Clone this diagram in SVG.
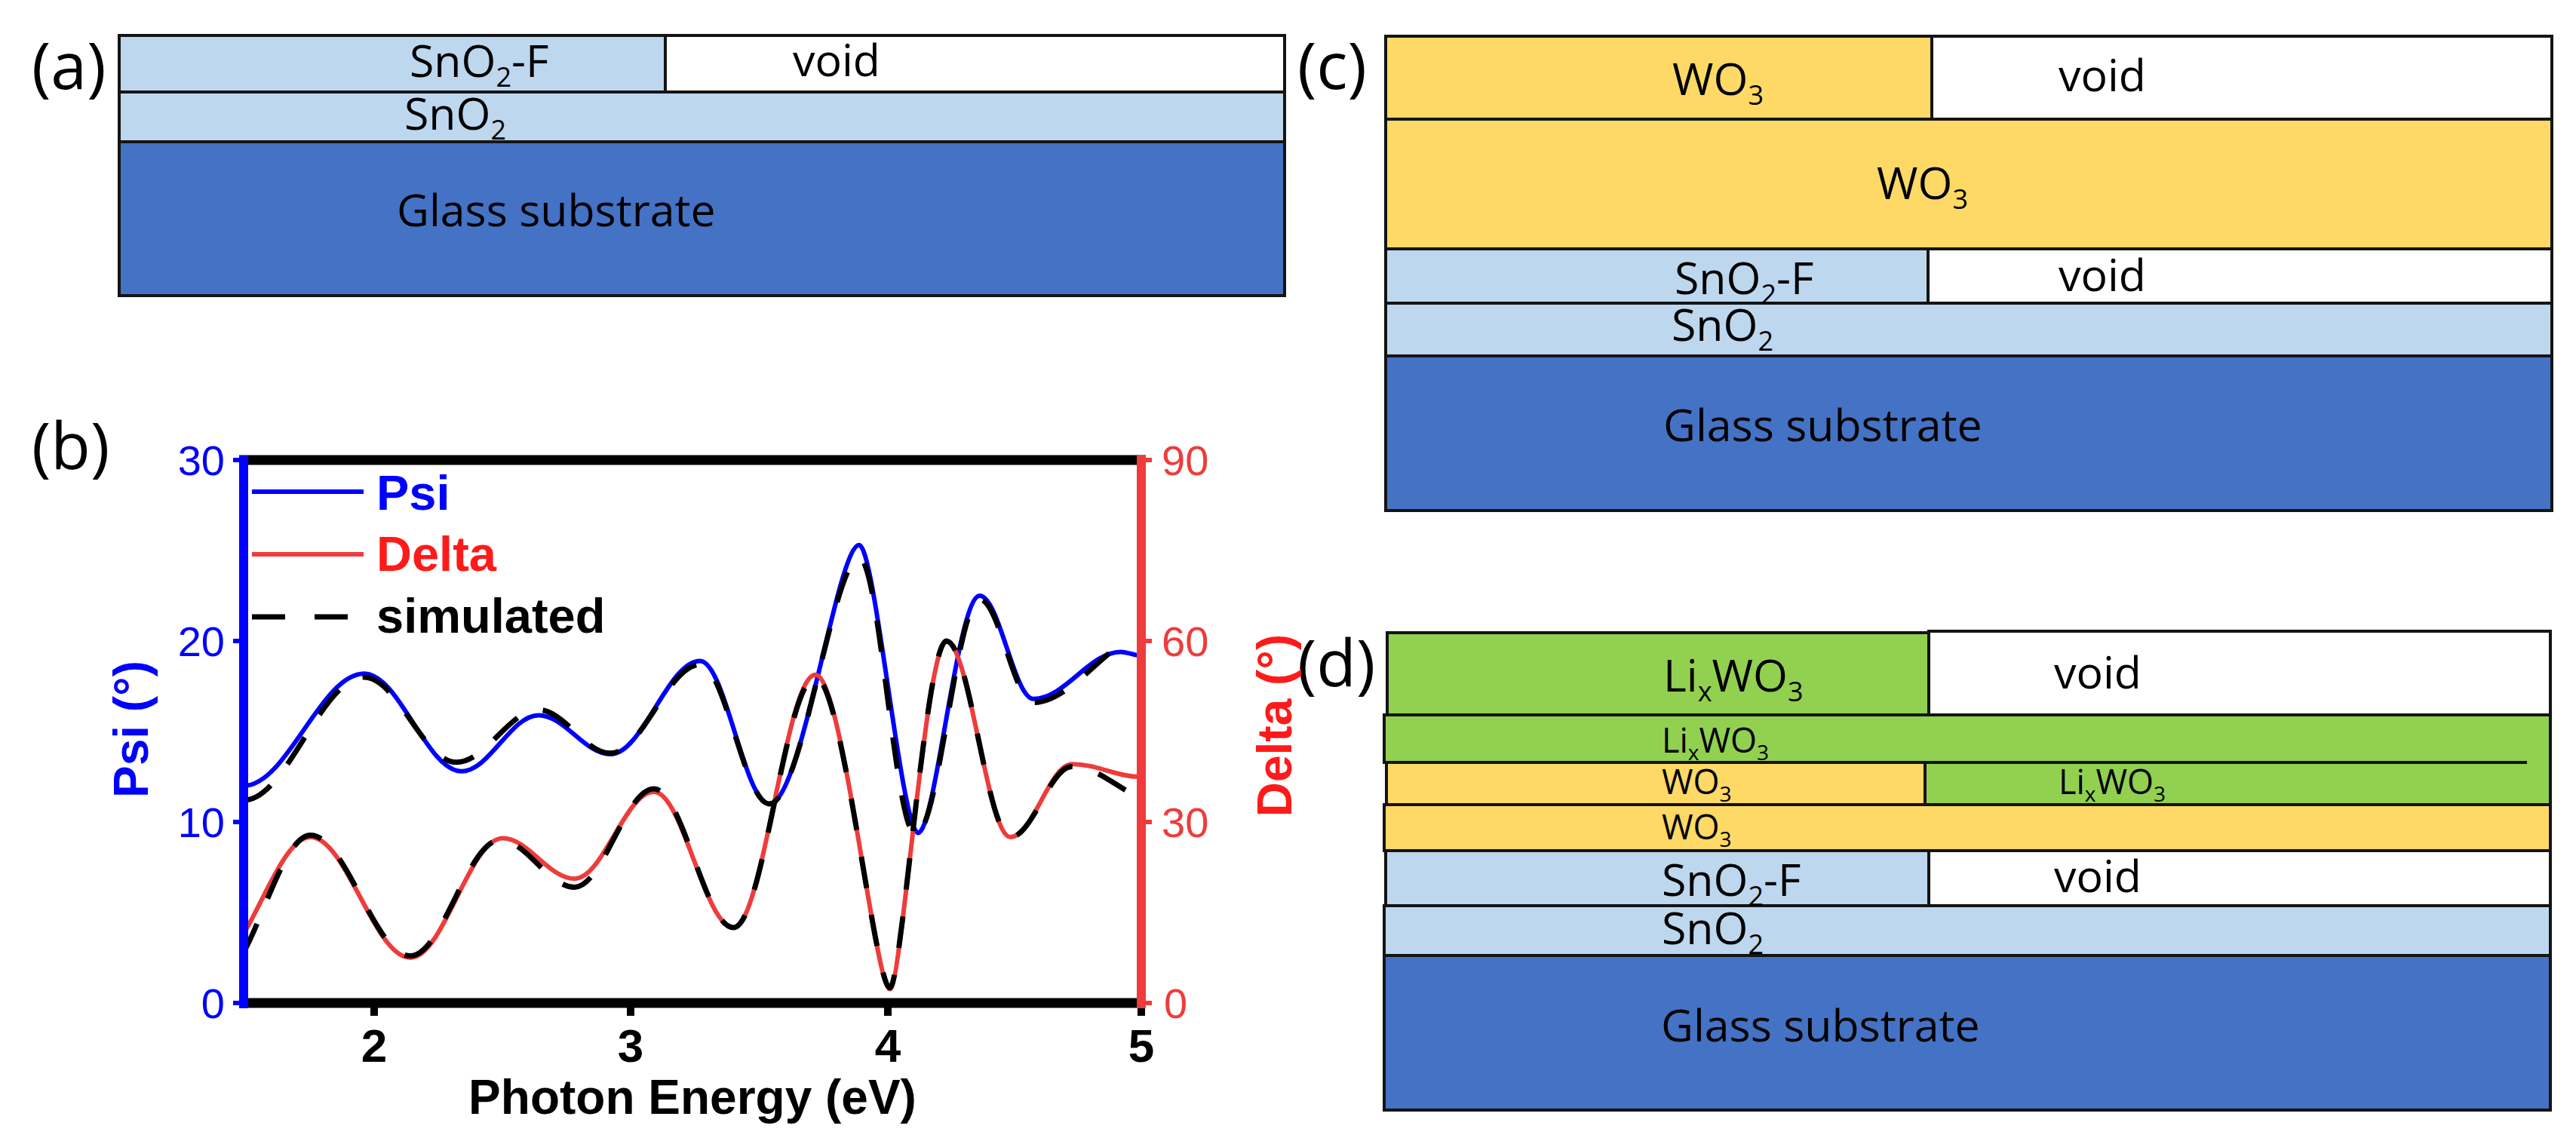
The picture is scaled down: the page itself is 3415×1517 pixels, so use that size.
<svg xmlns="http://www.w3.org/2000/svg" width="3415" height="1517" viewBox="0 0 3415 1517">
<style>
.bg{fill:#ffffff}
.ly{stroke:#141414;stroke-width:4}
.lb{fill:#BDD7EE}
.gl{fill:#4472C4}
.wo{fill:#FFD966}
.li{fill:#92D050}
.vd{fill:#ffffff}
.t{font-family:"Open Sans","Noto Sans",sans-serif;font-size:59px;fill:#000}
.ts{font-family:"Open Sans","Noto Sans",sans-serif;font-size:45px;fill:#000}
.pl{font-family:"Open Sans","Noto Sans",sans-serif;font-size:86px;fill:#000}
.tk{font-family:"Liberation Sans",Arial,sans-serif;font-size:56px}
.xt{font-family:"Liberation Sans",Arial,sans-serif;font-size:62px;font-weight:bold;fill:#000}
.ax{font-family:"Liberation Sans",Arial,sans-serif;font-size:64px;font-weight:bold}
.lg{font-family:"Liberation Sans",Arial,sans-serif;font-size:65px;font-weight:bold}
.blue{fill:#0000ff}
.red{fill:#ff1a1a}
.redl{fill:#ee3c3c}
.cv{fill:none;stroke-width:6;stroke-linejoin:round;stroke-linecap:round}
.dash{fill:none;stroke:#000;stroke-width:7;stroke-dasharray:42 36}
</style>
<rect class="bg" x="0" y="0" width="3415" height="1517"/>

<g id="panel-a">
<text class="pl" x="42" y="118">(a)</text>
<rect class="ly lb" x="158" y="47" width="724" height="75"/>
<rect class="ly vd" x="882" y="47" width="821" height="75"/>
<rect class="ly lb" x="158" y="122" width="1545" height="66"/>
<rect class="ly gl" x="158" y="188" width="1545" height="204"/>
<text class="t" x="543" y="102">SnO<tspan font-size="36" dy="13">2</tspan><tspan dy="-13">-F</tspan></text>
<text class="t" x="1051" y="101">void</text>
<text class="t" x="536" y="172">SnO<tspan font-size="36" dy="13">2</tspan></text>
<text class="t" x="526" y="300">Glass substrate</text>
</g>

<g id="panel-c">
<text class="pl" x="1720" y="118">(c)</text>
<rect class="ly wo" x="1837" y="48" width="724" height="110"/>
<rect class="ly vd" x="2561" y="48" width="822" height="110"/>
<rect class="ly wo" x="1837" y="158" width="1546" height="172"/>
<rect class="ly lb" x="1837" y="330" width="719" height="72"/>
<rect class="ly vd" x="2556" y="330" width="827" height="72"/>
<rect class="ly lb" x="1837" y="402" width="1546" height="70"/>
<rect class="ly gl" x="1837" y="472" width="1546" height="205"/>
<text class="t" x="2217" y="126">WO<tspan font-size="36" dy="13">3</tspan></text>
<text class="t" x="2729" y="121">void</text>
<text class="t" x="2488" y="264">WO<tspan font-size="36" dy="13">3</tspan></text>
<text class="t" x="2220" y="390">SnO<tspan font-size="36" dy="13">2</tspan><tspan dy="-13">-F</tspan></text>
<text class="t" x="2729" y="386">void</text>
<text class="t" x="2216" y="452">SnO<tspan font-size="36" dy="13">2</tspan></text>
<text class="t" x="2205" y="585">Glass substrate</text>
</g>

<g id="panel-d">
<text class="pl" x="1720" y="910">(d)</text>
<rect class="ly li" x="1839" y="839" width="718" height="109"/>
<rect class="ly vd" x="2557" y="837" width="824" height="111"/>
<rect class="ly li" x="1835" y="948" width="1546" height="63"/>
<rect class="ly wo" x="1838" y="1011" width="714" height="56"/>
<rect class="ly li" x="2552" y="1011" width="829" height="56"/>
<rect class="li" x="3350" y="1008" width="29" height="6"/>
<rect class="ly wo" x="1835" y="1067" width="1546" height="61"/>
<rect class="ly lb" x="1837" y="1128" width="720" height="73"/>
<rect class="ly vd" x="2557" y="1128" width="824" height="73"/>
<rect class="ly lb" x="1835" y="1201" width="1546" height="66"/>
<rect class="ly gl" x="1835" y="1267" width="1546" height="205"/>
<text class="t" x="2205" y="917">Li<tspan font-size="36" dy="13">x</tspan><tspan dy="-13">WO</tspan><tspan font-size="36" dy="13">3</tspan></text>
<text class="t" x="2723" y="913">void</text>
<text class="ts" x="2203" y="998">Li<tspan font-size="28" dy="10">x</tspan><tspan dy="-10">WO</tspan><tspan font-size="28" dy="10">3</tspan></text>
<text class="ts" x="2203" y="1053">WO<tspan font-size="28" dy="10">3</tspan></text>
<text class="ts" x="2729" y="1053">Li<tspan font-size="28" dy="10">x</tspan><tspan dy="-10">WO</tspan><tspan font-size="28" dy="10">3</tspan></text>
<text class="ts" x="2203" y="1113">WO<tspan font-size="28" dy="10">3</tspan></text>
<text class="t" x="2203" y="1188">SnO<tspan font-size="36" dy="13">2</tspan><tspan dy="-13">-F</tspan></text>
<text class="t" x="2723" y="1183">void</text>
<text class="t" x="2203" y="1252">SnO<tspan font-size="36" dy="13">2</tspan></text>
<text class="t" x="2202" y="1381">Glass substrate</text>
</g>

<g id="panel-b">
<text class="pl" x="42" y="622">(b)</text>
<g id="curves">
<path class="cv" stroke="#0000ff" d="M323,1042 C380.5,1042 425.3,893.2 482.8,893.2 C529.3,893.2 565.5,1022.8 612,1022.8 C648.7,1022.8 677.3,948.4 714,948.4 C748.3,948.4 774.9,1000 809.2,1000 C852,1000 885.4,876.4 928.2,876.4 C961.2,876.4 987,1066 1020,1066 C1062.8,1066 1110,722.8 1139,722.8 C1160,722.8 1195,1104.4 1217.2,1104.4 C1240,1104.4 1269.4,790 1298.8,790 C1324.5,790 1344.5,926.8 1370.2,926.8 C1411.8,926.8 1444.2,864.4 1485.8,864.4 C1495,864.4 1504,869.2 1510,869.2"/>
<path class="cv" stroke="#ee3c3c" d="M323,1238 C349.5,1195 379.6,1110 411.4,1110 C459.1,1110 496.3,1270 544,1270 C588.1,1270 622.3,1111.6 666.4,1111.6 C700.7,1111.6 727.3,1165.2 761.6,1165.2 C799.5,1165.2 829.1,1050 867,1050 C904.9,1050 934.5,1230 972.4,1230 C1011.6,1230 1042,894.8 1081.2,894.8 C1116.7,894.8 1160,1311.6 1179.8,1311.6 C1195,1311.6 1227.7,850.8 1254.6,850.8 C1285.2,850.8 1309,1110 1339.6,1110 C1369,1110 1391.8,1013.2 1421.2,1013.2 C1454.2,1013.2 1480,1030 1510,1030"/>
<path class="dash" d="M323,1061.2 C380.5,1061.2 425.3,898 482.8,898 C526.9,898 561.1,1010.8 605.2,1010.8 C644.4,1010.8 674.8,941.2 714,941.2 C748.3,941.2 774.9,998.8 809.2,998.8 C852,998.8 885.4,881.2 928.2,881.2 C961.2,881.2 987,1066 1020,1066 C1062.8,1066 1105,739.6 1139,739.6 C1165.9,739.6 1186.9,1106.8 1213.8,1106.8 C1244.4,1106.8 1268.2,794.8 1298.8,794.8 C1324.5,794.8 1344.5,931.6 1370.2,931.6 C1415.5,931.6 1465,860 1496,850"/>
<path class="dash" d="M323,1262.8 C349.5,1215 379.6,1107.6 411.4,1107.6 C459.1,1107.6 496.3,1267.6 544,1267.6 C586.8,1267.6 620.2,1114 663,1114 C698.5,1114 726.1,1176.4 761.6,1176.4 C799.5,1176.4 829.1,1046 867,1046 C904.9,1046 934.5,1230 972.4,1230 C1011.6,1230 1042,898 1081.2,898 C1116.7,898 1160,1310 1179.8,1310 C1195,1310 1227.7,850 1254.6,850 C1285.2,850 1309,1110 1339.6,1110 C1369,1110 1391.8,1016.4 1421.2,1016.4 C1448,1016.4 1470,1035 1496,1050"/>
</g>
<g id="axes">
<line x1="317" y1="610" x2="1519" y2="610" stroke="#000" stroke-width="13"/>
<line x1="317" y1="1330" x2="1519" y2="1330" stroke="#000" stroke-width="13"/>
<g stroke="#000" stroke-width="10">
<line x1="496" y1="1330" x2="496" y2="1347"/>
<line x1="836" y1="1330" x2="836" y2="1347"/>
<line x1="1177" y1="1330" x2="1177" y2="1347"/>
<line x1="1513" y1="1330" x2="1513" y2="1347"/>
</g>
<line x1="323" y1="604" x2="323" y2="1337" stroke="#0000ff" stroke-width="12"/>
<g stroke="#0000ff" stroke-width="6">
<line x1="309" y1="610" x2="323" y2="610"/>
<line x1="309" y1="850" x2="323" y2="850"/>
<line x1="309" y1="1090" x2="323" y2="1090"/>
<line x1="309" y1="1330" x2="323" y2="1330"/>
</g>
<line x1="1513" y1="604" x2="1513" y2="1337" stroke="#ee3c3c" stroke-width="12"/>
<g stroke="#ee3c3c" stroke-width="6">
<line x1="1513" y1="610" x2="1527" y2="610"/>
<line x1="1513" y1="850" x2="1527" y2="850"/>
<line x1="1513" y1="1090" x2="1527" y2="1090"/>
<line x1="1513" y1="1330" x2="1527" y2="1330"/>
</g>
</g>
<g id="tick-labels">
<text class="tk blue" x="298" y="630" text-anchor="end">30</text>
<text class="tk blue" x="298" y="870" text-anchor="end">20</text>
<text class="tk blue" x="298" y="1110" text-anchor="end">10</text>
<text class="tk blue" x="298" y="1350" text-anchor="end">0</text>
<text class="tk redl" x="1540" y="630">90</text>
<text class="tk redl" x="1540" y="870">60</text>
<text class="tk redl" x="1540" y="1110">30</text>
<text class="tk redl" x="1543" y="1350">0</text>
<text class="xt" x="496" y="1408" text-anchor="middle">2</text>
<text class="xt" x="836" y="1408" text-anchor="middle">3</text>
<text class="xt" x="1177" y="1408" text-anchor="middle">4</text>
<text class="xt" x="1513" y="1408" text-anchor="middle">5</text>
</g>
<text class="ax" x="918" y="1477" text-anchor="middle" fill="#000">Photon Energy (eV)</text>
<text class="ax blue" transform="translate(196,967) rotate(-90)" text-anchor="middle">Psi (°)</text>
<text class="ax red" transform="translate(1712,962) rotate(-90)" text-anchor="middle">Delta (°)</text>
<g id="legend">
<line x1="334" y1="652" x2="482" y2="652" stroke="#0000ff" stroke-width="6"/>
<text class="lg blue" x="499" y="676">Psi</text>
<line x1="334" y1="735" x2="482" y2="735" stroke="#ee3c3c" stroke-width="6"/>
<text class="lg red" x="499" y="757">Delta</text>
<line x1="334" y1="818" x2="461" y2="818" stroke="#000" stroke-width="7" stroke-dasharray="44 39"/>
<text class="lg" x="499" y="839" fill="#000">simulated</text>
</g>
</g>
</svg>
